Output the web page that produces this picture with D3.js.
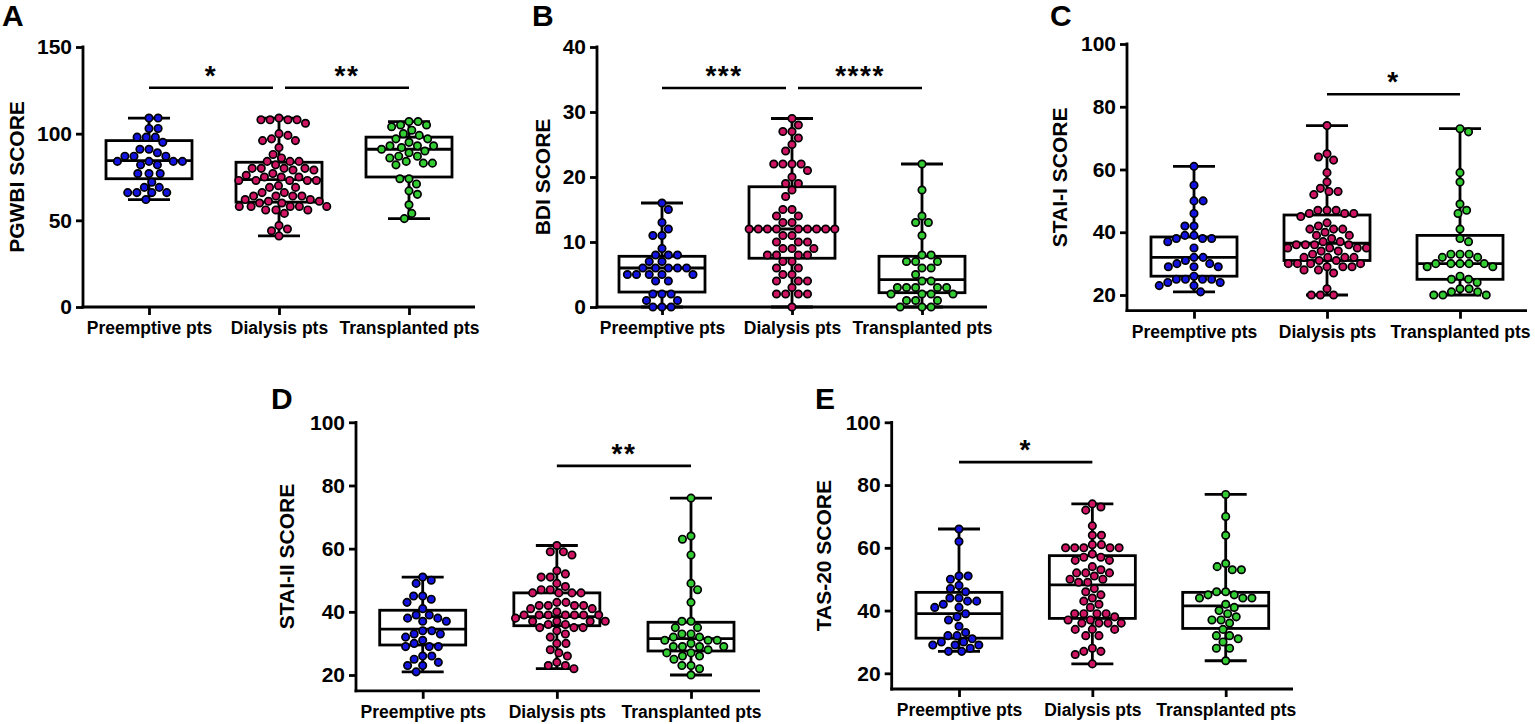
<!DOCTYPE html>
<html>
<head>
<meta charset="utf-8">
<script src="https://cdn.jsdelivr.net/npm/d3@7"></script>
<style>
  html, body { margin: 0; padding: 0; background: #ffffff; }
  svg { display: block; }
</style>
</head>
<body>
<svg id="chart" width="1535" height="724"></svg>
<script>
// ---------------- DATA ----------------
const categories = ["Preemptive pts", "Dialysis pts", "Transplanted pts"];
const groupColors = ["#1414e0", "#cf1463", "#33cc33"];

// Panel A – PGWBI
const pgwbiTicks = [0, 50, 100, 150];
const pgwbiPreemptive = [109,109,103,103,98,98,98,95,91,91,89,87,87,87,84,84,84,84,82,82,77,77,77,72,69,69,66,66,66,66,62];
const pgwbiDialysis = [109,108,108,108,108,106,100,99,97,96,96,92,88,86,84,84,84,82,80,80,80,80,79,79,77,76,75,75,75,73,73,73,73,73,70,69,69,66,66,64,64,64,64,62,62,61,61,60,60,58,58,58,58,58,56,56,56,54,47,45,44,41];
const pgwbiTransplanted = [107,107,105,104,105,102,100,99,97,97,95,93,93,93,92,91,90,89,87,87,86,84,83,83,82,74,74,71,67,65,59,54,51];
// [min, q1, median, q3, max]
const pgwbiBoxes = [[62,74,84.5,96,109],[41,60.5,73.5,83.5,109],[51,75,91,98,107]];
const pgwbiSig = [{from:0,to:1,value:126.5,label:"*"},{from:1,to:2,value:126.5,label:"**"}];

// Panel B – BDI
const bdiTicks = [0, 10, 20, 30, 40];
const bdiPreemptive = [16,15,13,12,11,11,9,8,8,8,7,7,6,6,6,6,6,5,5,5,5,5,4,4,2,2,2,1,1,0,0,0];
const bdiDialysis = [29,28,27,27,26,25,24,22,22,22,22,21,20,19,19,18,17,15,15,14,14,13,13,12,12,12,12,12,12,12,12,12,11,11,10,10,10,9,9,9,8,8,8,8,7,7,6,6,5,5,4,4,4,3,2,2,2,2,0];
const bdiTransplanted = [22,18,14,13,13,11,8,8,7,7,7,6,6,5,4,4,3,3,3,3,3,2,2,2,2,1,1,1,0,0,0];
const bdiBoxes = [[0,2.3,6,7.8,16],[0,7.5,12,18.5,29],[0,2.2,4.2,7.8,22]];
const bdiSig = [{from:0,to:1,value:33.7,label:"***"},{from:1,to:2,value:33.7,label:"****"}];

// Panel C – STAI-I
const staiTicks = [20, 40, 60, 80, 100];
const stai1Preemptive = [61,55,50,50,46,42,42,39,39,38,38,38,37,35,32,32,31,30,30,29,29,29,26,25,25,25,25,24,24,23,23,21];
const stai1Dialysis = [74,65,64,63,59,56,54,53,53,52,47,47,47,46,46,46,45,43,42,41,41,41,40,39,39,38,37,37,36,36,36,36,35,35,35,35,34,34,33,32,32,32,32,31,31,30,30,30,30,29,29,29,28,28,27,22,20,20,20];
const stai1Transplanted = [73,72,59,56,49,46,47,41,38,37,33,33,33,32,32,30,30,30,30,30,29,29,26,25,25,24,22,22,21,21,20,20,20];
const stai1Boxes = [[21,26,32,38.5,61],[20,31,36.5,45.5,74],[20,25,30,39,73]];
const stai1Sig = [{from:1,to:2,value:84,label:"*"}];

// Panel D – STAI-II
const stai2Preemptive = [51,50,49,45,45,44,43,41,39,39,38,38,37,37,34,34,33,33,32,31,30,29,29,29,26,26,25,24,23,23,21];
const stai2Dialysis = [61,59,59,58,53,52,51,51,49,48,47,47,46,46,46,46,43,43,42,42,42,42,41,41,40,39,39,39,39,39,39,39,38,37,37,37,37,36,36,35,35,35,34,33,32,30,30,28,27,26,24,23,23,22];
const stai2Transplanted = [76,64,63,58,49,47,43,37,37,35,35,33,33,32,32,31,31,31,30,29,29,29,29,28,27,27,26,26,25,23,23,22,20];
const stai2Boxes = [[21,29.5,34.5,40.5,51],[22,35.6,38.5,46,61],[20,27.6,31.5,36.7,76]];
const stai2Sig = [{from:1,to:2,value:86.2,label:"**"}];

// Panel E – TAS-20
const tasTicks = [20, 40, 60, 80, 100];
const tasPreemptive = [66,62,51,51,50,48,47,46,44,44,43,43,42,41,41,39,38,37,35,33,32,32,31,30,30,29,29,29,28,27,27];
const tasDialysis = [74,73,72,67,64,64,61,61,60,60,60,60,60,58,57,57,56,56,54,53,52,52,52,51,50,50,49,49,47,46,45,44,43,42,41,39,39,39,39,38,37,37,36,36,36,36,34,34,34,32,32,28,27,27,26,23];
const tasTransplanted = [77,70,64,55,54,53,53,46,46,45,45,44,44,44,42,41,40,39,38,37,37,36,34,32,32,31,30,28,28,24];
const tasBoxes = [[27,31.2,39,45.8,66],[23,37.5,48.2,57.5,74],[24,34.3,41.5,45.8,77]];
const tasSig = [{from:0,to:1,value:87.3,label:"*"}];

// ---------------- LAYOUT ----------------
const FONT = "'Liberation Sans', Arial, Helvetica, sans-serif";
const panels = [
  { letter:"A", title:"PGWBI SCORE", domain:[0,150], ticks:pgwbiTicks,
    groups:[pgwbiPreemptive,pgwbiDialysis,pgwbiTransplanted], boxes:pgwbiBoxes, sig:pgwbiSig,
    L:{axisX:83, yBottom:307, yTop:47, xFirst:149, xLast:409, xEnd:475, letterX:2, letterY:26, titleX:24} },
  { letter:"B", title:"BDI SCORE", domain:[0,40], ticks:bdiTicks,
    groups:[bdiPreemptive,bdiDialysis,bdiTransplanted], boxes:bdiBoxes, sig:bdiSig,
    L:{axisX:597, yBottom:307, yTop:47, xFirst:662, xLast:922, xEnd:987, letterX:532, letterY:26, titleX:550} },
  { letter:"C", title:"STAI-I SCORE", domain:[15,100], ticks:staiTicks,
    groups:[stai1Preemptive,stai1Dialysis,stai1Transplanted], boxes:stai1Boxes, sig:stai1Sig,
    L:{axisX:1127, yBottom:310.7, yTop:44, xFirst:1194, xLast:1460, xEnd:1527, letterX:1050, letterY:26, titleX:1066.5} },
  { letter:"D", title:"STAI-II SCORE", domain:[15,100], ticks:staiTicks,
    groups:[stai2Preemptive,stai2Dialysis,stai2Transplanted], boxes:stai2Boxes, sig:stai2Sig,
    L:{axisX:356, yBottom:690.8, yTop:422.3, xFirst:422.7, xLast:691, xEnd:760, letterX:271, letterY:409, titleX:294} },
  { letter:"E", title:"TAS-20 SCORE", domain:[15,100], ticks:tasTicks,
    groups:[tasPreemptive,tasDialysis,tasTransplanted], boxes:tasBoxes, sig:tasSig,
    L:{axisX:891.7, yBottom:689, yTop:422.3, xFirst:959, xLast:1225.7, xEnd:1293, letterX:815, letterY:409, titleX:831} }
];

const LW = 2.8;           // line width
const BOX_HALF = 43;
const CAP_HALF = 21;
const DOT_R = 3.7;
const DOT_STROKE = 1.7;
const COLLIDE = 9.1;      // centre distance between dots

function swarm(values, y) {
  const pts = values.map(v => ({ v, y: y(v), x: 0 }));
  const order = pts.slice().sort((a, b) => a.y - b.y);
  const placed = [];
  order.forEach((p, k) => {
    const near = placed.filter(q => Math.abs(q.y - p.y) < COLLIDE);
    const cands = [0];
    near.forEach(q => {
      const dx = Math.sqrt(COLLIDE * COLLIDE - (q.y - p.y) ** 2) + 0.01;
      cands.push(q.x + dx, q.x - dx);
    });
    const sgn = (k % 2 === 0) ? 1 : -1;
    cands.sort((a, b) => (Math.abs(a) - Math.abs(b)) || (sgn * (a - b)));
    for (const c of cands) {
      if (near.every(q => (q.x - c) ** 2 + (q.y - p.y) ** 2 >= COLLIDE * COLLIDE - 0.05)) { p.x = c; break; }
    }
    placed.push(p);
  });
  return pts;
}

const svg = d3.select("#chart");

panels.forEach(P => {
  const L = P.L;
  const g = svg.append("g");
  const y = d3.scaleLinear().domain(P.domain).range([L.yBottom, L.yTop]);
  const x = d3.scalePoint().domain(categories).range([L.xFirst, L.xLast]);

  // panel letter
  g.append("text").attr("x", L.letterX).attr("y", L.letterY)
    .attr("font-family", FONT).attr("font-weight", "bold").attr("font-size", 30)
    .text(P.letter);

  // y title
  g.append("text")
    .attr("transform", `translate(${L.titleX},${(L.yTop + L.yBottom) / 2}) rotate(-90)`)
    .attr("text-anchor", "middle")
    .attr("font-family", FONT).attr("font-weight", "bold").attr("font-size", 21)
    .text(P.title);

  // y axis
  const ya = g.append("g").attr("transform", `translate(${L.axisX},0)`)
    .call(d3.axisLeft(y).tickValues(P.ticks).tickSize(7).tickSizeOuter(0).tickPadding(4).tickFormat(d3.format("d")));
  ya.selectAll("path.domain").attr("stroke", "#000").attr("stroke-width", LW)
    .attr("d", `M0,${L.yBottom + LW / 2}V${L.yTop - LW / 2}`);
  ya.selectAll(".tick line").attr("stroke", "#000").attr("stroke-width", LW);
  ya.selectAll(".tick text").attr("font-family", FONT).attr("font-weight", "bold")
    .attr("font-size", 21).attr("fill", "#000");

  // x axis
  const xa = g.append("g").attr("transform", `translate(0,${L.yBottom})`)
    .call(d3.axisBottom(x).tickSize(8).tickSizeOuter(0).tickPadding(6.6));
  xa.select("path.domain").remove();
  xa.selectAll(".tick line").attr("stroke", "#000").attr("stroke-width", LW);
  xa.selectAll(".tick text").attr("font-family", FONT).attr("font-weight", "bold")
    .attr("font-size", 17.5).attr("fill", "#000");
  g.append("line").attr("x1", L.axisX - LW / 2).attr("x2", L.xEnd)
    .attr("y1", L.yBottom).attr("y2", L.yBottom)
    .attr("stroke", "#000").attr("stroke-width", LW);

  // boxes
  P.boxes.forEach((b, i) => {
    const cx = x(categories[i]);
    const [mn, q1, md, q3, mx] = b;
    const bg = g.append("g").attr("stroke", "#000").attr("stroke-width", LW).attr("fill", "none");
    bg.append("line").attr("x1", cx).attr("x2", cx).attr("y1", y(mx)).attr("y2", y(q3));
    bg.append("line").attr("x1", cx).attr("x2", cx).attr("y1", y(q1)).attr("y2", y(mn));
    bg.append("line").attr("x1", cx - CAP_HALF).attr("x2", cx + CAP_HALF).attr("y1", y(mx)).attr("y2", y(mx));
    bg.append("line").attr("x1", cx - CAP_HALF).attr("x2", cx + CAP_HALF).attr("y1", y(mn)).attr("y2", y(mn));
    bg.append("rect").attr("x", cx - BOX_HALF).attr("width", 2 * BOX_HALF)
      .attr("y", y(q3)).attr("height", y(q1) - y(q3));
    bg.append("line").attr("x1", cx - BOX_HALF).attr("x2", cx + BOX_HALF).attr("y1", y(md)).attr("y2", y(md));
  });

  // dots
  P.groups.forEach((vals, i) => {
    const cx = x(categories[i]);
    const pts = swarm(vals, y);
    g.append("g").selectAll("circle").data(pts).join("circle")
      .attr("cx", d => cx + d.x).attr("cy", d => d.y).attr("r", DOT_R)
      .attr("fill", groupColors[i]).attr("stroke", "#000").attr("stroke-width", DOT_STROKE);
  });

  // significance bars
  P.sig.forEach(s => {
    const shared = P.sig.filter(o => o !== s && (o.from === s.to || o.to === s.from));
    let x1 = x(categories[s.from]), x2 = x(categories[s.to]);
    shared.forEach(o => { if (o.from === s.to) x2 -= 6; if (o.to === s.from) x1 += 6; });
    const yy = y(s.value);
    g.append("line").attr("x1", x1).attr("x2", x2).attr("y1", yy).attr("y2", yy)
      .attr("stroke", "#000").attr("stroke-width", 2.6);
    g.append("text").attr("x", (x1 + x2) / 2).attr("y", yy - 3)
      .attr("text-anchor", "middle").attr("font-family", FONT).attr("font-weight", "bold")
      .attr("font-size", 28).attr("letter-spacing", 1.5).text(s.label);
  });
});
</script>
</body>
</html>
